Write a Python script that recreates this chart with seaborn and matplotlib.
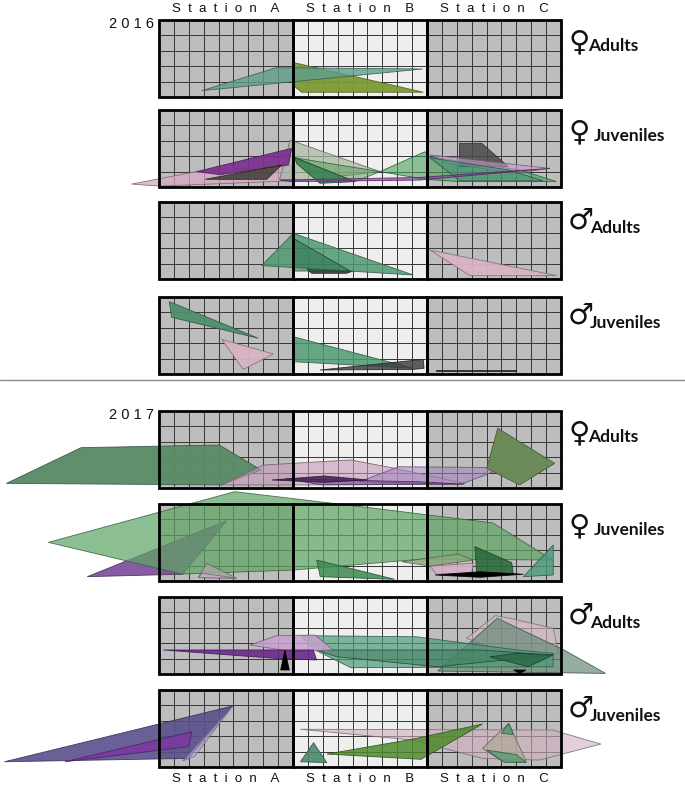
import numpy as np
import matplotlib
matplotlib.use("Agg")
import matplotlib.pyplot as plt
from matplotlib.patches import Polygon, Rectangle
from matplotlib.lines import Line2D
from matplotlib.colors import ListedColormap, to_rgba
import seaborn as sns

sns.set_theme(style="white")
plt.rcParams['font.family'] = ['DejaVu Sans']

# ---------------- data ----------------
stations = ["Station A", "Station B", "Station C"]
years = ["2016", "2017"]
sexes = ["♀", "♀", "♂", "♂"]
stages = ["Adults", "Juveniles", "Adults", "Juveniles"]
cols_per_station = 9
rows_per_station = 5

# Home-range polygons, in grid-cell units:
# x = cells from the left edge of Station A, y = cells from the top row.
hr_2016_f_adults = [
    [(9.07, 2.77), (17.75, 4.69), (9.58, 4.69), (9.07, 4.29)],
    [(2.87, 4.59), (7.86, 3.10), (17.71, 3.18)],
]
hr_2016_f_juveniles = [
    [(-1.84, 4.81), (2.5, 4.0), (8.9, 3.6), (8.9, 4.6), (0.0, 4.94)],
    [(8.8, 1.95), (14.84, 4.0), (9.47, 4.6), (8.1, 4.5), (8.4, 3.5)],
    [(2.53, 4.0), (8.91, 2.49), (8.69, 3.57), (4.1, 4.2)],
    [(3.1, 4.5), (8.24, 3.57), (7.23, 4.5)],
    [(14.84, 4.0), (17.86, 2.71), (18.2, 3.03), (24.24, 3.9), (26.7, 4.65), (20.2, 4.65), (17.86, 4.5)],
    [(9.1, 3.1), (14.84, 4.0), (13.16, 4.65)],
    [(9.13, 3.08), (13.16, 4.65), (10.81, 4.76), (9.24, 3.47)],
    [(20.17, 2.16), (21.67, 2.16), (23.46, 3.68), (20.2, 3.68)],
    [(18.2, 2.92), (26.26, 3.79), (23.8, 4.1), (19.5, 3.47)],
    [(18.2, 3.1), (20.2, 4.6), (25.8, 4.6), (23.5, 3.9)],
    [(8.1, 4.55), (17.5, 4.38), (26.26, 3.79), (17.5, 4.55), (8.9, 4.65)],
]
hr_2016_m_adults = [
    [(9.92, 4.35), (13.05, 4.48), (12.6, 4.63), (10.26, 4.63)],
    [(9.02, 2.03), (17.08, 4.74), (6.9, 4.13)],
    [(9.02, 2.36), (12.83, 4.48), (9.02, 4.48)],
    [(18.2, 3.12), (26.7, 4.78), (20.89, 4.78)],
]
hr_2016_m_juveniles = [
    [(0.69, 0.3), (6.67, 2.68), (0.85, 1.32)],
    [(4.21, 2.75), (7.68, 3.7), (5.66, 4.7)],
    [(9.02, 2.58), (17.08, 4.63), (9.02, 4.2)],
    [(10.81, 4.74), (17.75, 4.05), (17.8, 4.63), (17.08, 4.7)],
    [(18.6, 4.72), (23.98, 4.72), (23.98, 4.78), (18.6, 4.78)],
]
hr_2017_f_adults = [
    [(-10.25, 4.7), (-5.23, 2.38), (4.05, 2.21), (6.85, 3.83), (4.2, 4.8)],
    [(4.2, 4.8), (7.0, 3.51), (12.89, 3.18), (15.83, 3.72), (20.54, 4.7), (9.94, 4.8)],
    [(13.47, 4.59), (16.12, 3.62), (23.2, 3.68), (20.25, 4.76)],
    [(8.5, 4.4), (17.5, 4.6), (20.5, 4.75), (11.0, 4.8)],
    [(7.58, 4.48), (11.12, 4.22), (14.06, 4.48), (11.12, 4.63)],
    [(22.75, 1.12), (26.58, 3.4), (24.22, 4.8), (22.01, 3.72)],
]
hr_2017_f_juveniles = [
    [(-4.82, 4.72), (4.55, 1.08), (1.59, 4.56)],
    [(5.08, -0.8), (13.7, 0.19), (22.43, 1.23), (26.46, 3.64), (17.73, 3.57), (9.0, 4.29), (1.54, 4.55), (-7.43, 2.49)],
    [(3.2, 3.85), (5.22, 4.82), (2.64, 4.78)],
    [(2.9, 4.5), (5.22, 4.82), (2.64, 4.78)],
    [(10.59, 3.64), (15.83, 4.89), (10.83, 4.72)],
    [(16.3, 3.75), (20.1, 3.25), (21.11, 3.64), (18.2, 4.03)],
    [(18.2, 4.03), (21.11, 3.85), (21.0, 4.46), (18.65, 4.56)],
    [(21.22, 2.77), (23.69, 3.81), (23.8, 4.55), (21.34, 4.5)],
    [(18.54, 4.61), (21.56, 4.4), (24.47, 4.56), (21.56, 4.76)],
    [(26.48, 2.66), (26.48, 4.61), (24.47, 4.72)],
]
hr_2017_m_adults = [
    [(20.66, 2.68), (22.59, 1.21), (23.57, 1.38), (26.47, 2.03), (26.84, 3.66), (24.05, 3.88)],
    [(22.72, 1.38), (27.2, 3.44), (29.99, 4.96), (18.72, 4.81)],
    [(9.5, 2.51), (17.26, 2.58), (24.05, 3.44), (26.47, 3.66), (26.47, 4.53), (12.89, 4.59), (10.48, 3.44)],
    [(10.6, 3.44), (21.63, 3.44), (26.47, 3.77), (18.72, 4.53), (11.93, 3.88)],
    [(6.11, 3.12), (7.9, 2.51), (10.48, 2.47), (11.7, 3.44), (9.02, 3.55)],
    [(0.29, 3.44), (10.36, 3.44), (10.59, 4.09), (8.0, 4.0)],
    [(8.17, 4.74), (8.46, 3.44), (8.75, 4.74)],
    [(22.23, 3.88), (24.04, 3.66), (26.47, 3.77), (24.78, 4.53)],
    [(23.81, 4.74), (24.65, 4.74), (24.24, 4.96)],
]
hr_2017_m_juveniles = [
    [(-10.38, 4.66), (4.94, 1.04), (1.99, 4.44)],
    [(1.6, 4.6), (4.94, 1.04), (2.4, 4.3)],
    [(-6.32, 4.66), (2.2, 2.71), (1.99, 3.68)],
    [(9.5, 2.55), (26.44, 2.6), (29.68, 3.51), (25.55, 4.55), (21.73, 4.44), (17.01, 3.25)],
    [(9.5, 4.66), (10.38, 3.42), (11.27, 4.72)],
    [(11.27, 4.16), (17.0, 3.2), (21.73, 2.21), (17.6, 4.5)],
    [(21.73, 3.79), (23.49, 2.16), (24.67, 4.66), (23.0, 4.6)],
    [(22.0, 3.9), (23.2, 4.7), (24.67, 4.7), (24.0, 4.2)],
    [(23.0, 2.8), (23.49, 2.16), (23.8, 2.9)],
]

# ---------------- styles ----------------
sty_2016_f_adults = [("#7c9a34", .95), ("#5e9e8c", .8)]
sty_2016_f_juveniles = [("#d4a9c2", .75), ("#a9b8a3", .75), ("#7b2d8e", .9), ("#3d3d33", .85),
                        ("#4aa05a", .6), ("#5a9a5a", .5), ("#2f7d4a", .85), ("#4a4a4a", .85),
                        ("#c79ccc", .6), ("#3d8f77", .55), ("#8a3fa0", .7)]
sty_2016_m_adults = [("#3a3a3a", .9), ("#4f9a72", .85), ("#2c6e4c", .55), ("#d8b4c4", .95)]
sty_2016_m_juveniles = [("#4f8f6a", .95), ("#d8b4c4", .95), ("#4f9a72", .85), ("#3a3a3a", .8), ("#333333", .9)]
sty_2017_f_adults = [("#5b8c66", .97), ("#c49ab8", .6), ("#a484c0", .55), ("#7a4a9a", .6),
                     ("#4a2558", .9), ("#6b8a55", .97)]
sty_2017_f_juveniles = [("#7a4a9a", .9), ("#5fa565", .72), ("#a4a8a0", .85), ("#c8a8c8", .9),
                        ("#3f8a52", .85), ("#8aaa7a", .85), ("#d8b0c8", .9), ("#2e6a3e", .9),
                        ("#000000", 1.0), ("#4a9a7a", .8)]
sty_2017_m_adults = [("#d8b8c8", .6), ("#6a8a7a", .7), ("#4f9a78", .7), ("#3a7a5a", .5),
                     ("#c8a0d0", .85), ("#6a2a8a", .9), ("#000000", 1.0), ("#2a6a4a", .85),
                     ("#000000", 1.0)]
sty_2017_m_juveniles = [("#5a4f8c", .9), ("#b8a8d8", .6), ("#7a3a9e", .9), ("#d0b0c0", .6),
                        ("#4a8a6a", .9), ("#4f8a2e", .85), ("#b0a898", .7), ("#4a9a6a", .7),
                        ("#4a9a6a", .8)]

panel_polys = [hr_2016_f_adults, hr_2016_f_juveniles, hr_2016_m_adults, hr_2016_m_juveniles,
               hr_2017_f_adults, hr_2017_f_juveniles, hr_2017_m_adults, hr_2017_m_juveniles]
panel_styles = [sty_2016_f_adults, sty_2016_f_juveniles, sty_2016_m_adults, sty_2016_m_juveniles,
                sty_2017_f_adults, sty_2017_f_juveniles, sty_2017_m_adults, sty_2017_m_juveniles]

W, H = 685, 788
panel_tops = [20, 110, 202, 297, 411, 504, 597, 690]
panel_h = 77
left_px, width_px = 159, 402

fig = plt.figure(figsize=(W / 100, H / 100), dpi=100)

cells = np.array([[0] * cols_per_station + [1] * cols_per_station + [0] * cols_per_station]
                 * rows_per_station)
cmap = ListedColormap(["#bdbdbd", "#eeeeee"])


def darker(c, f=0.6):
    r, g, b, _ = to_rgba(c)
    return (r * f, g * f, b * f, 0.9)


for i, top in enumerate(panel_tops):
    ax = fig.add_axes([left_px / W, 1 - (top + panel_h) / H, width_px / W, panel_h / H])
    sns.heatmap(cells, ax=ax, cmap=cmap, vmin=0, vmax=1, cbar=False,
                linewidths=0.7, linecolor="#3a3a3a",
                xticklabels=False, yticklabels=False)
    for sp in ax.spines.values():
        sp.set_visible(False)
    for verts, (c, a) in zip(panel_polys[i], panel_styles[i]):
        ax.add_patch(Polygon(verts, closed=True, facecolor=to_rgba(c, a),
                             edgecolor=darker(c), linewidth=0.6,
                             clip_on=False, zorder=3))
    for s in range(len(stations)):
        ax.add_patch(Rectangle((s * cols_per_station, 0), cols_per_station, rows_per_station,
                               fill=False, edgecolor="black", linewidth=2.0,
                               clip_on=False, zorder=6))

    # right-hand group labels
    sym = sexes[i % 4]
    stg = stages[i % 4]
    yc = top + 23
    if sym == "♀":
        fig.text(569 / W, 1 - (yc - 1) / H, sym, fontsize=21, family=["DejaVu Sans"],
                 ha="left", va="center", color="#111111")
        tx = 588 if stg == "Adults" else 594
    else:
        fig.text(568 / W, 1 - (yc - 4) / H, sym, fontsize=21, family=["DejaVu Sans"],
                 ha="left", va="center", color="#111111")
        tx = 590
    fig.text(tx / W, 1 - (yc + 3) / H, stg, fontsize=12.5, family=["Lato", "DejaVu Sans"],
             fontweight="bold", ha="left", va="center", color="#111111")


def spaced(name):
    words = name.split(" ")
    return "    ".join("  ".join(list(w)) for w in words)


for s, name in enumerate(stations):
    xc = (left_px + width_px / 3 * (s + 0.5)) / W
    lab = spaced(name)
    fig.text(xc, 1 - 9 / H, lab, fontsize=9.5, family=["Liberation Sans", "DejaVu Sans"],
             ha="center", va="center", color="#111111")
    fig.text(xc, 1 - 779 / H, lab, fontsize=9.5, family=["Liberation Sans", "DejaVu Sans"],
             ha="center", va="center", color="#111111")

# year labels
fig.text(154 / W, 1 - 24 / H, " ".join(list(years[0])), fontsize=10.5,
         family=["Liberation Sans", "DejaVu Sans"], ha="right", va="center", color="#111111")
fig.text(154 / W, 1 - 415 / H, " ".join(list(years[1])), fontsize=10.5,
         family=["Liberation Sans", "DejaVu Sans"], ha="right", va="center", color="#111111")

# divider between years
fig.add_artist(Line2D([0, 1], [1 - 380 / H, 1 - 380 / H], color="#8a8a8a", linewidth=1.0))

fig.savefig("out.png", dpi=100)
